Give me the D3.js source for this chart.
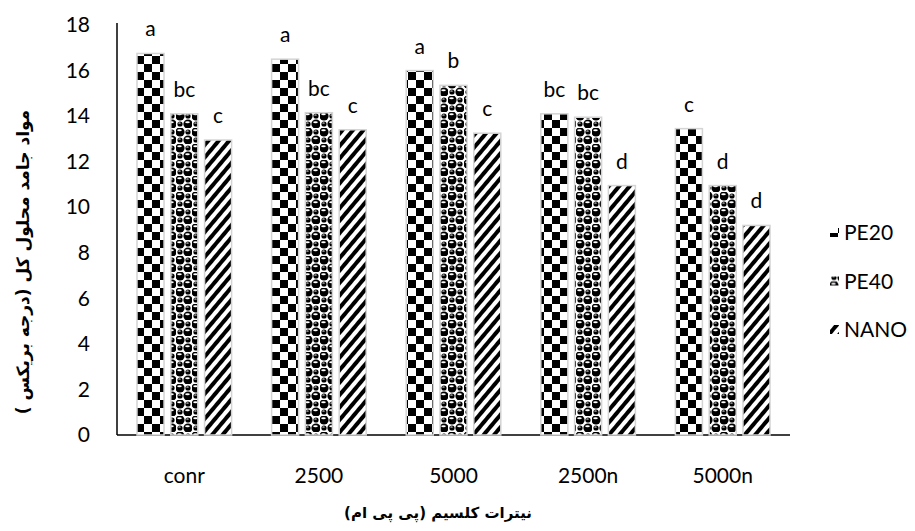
<!DOCTYPE html>
<html>
<head>
<meta charset="utf-8">
<script src="https://cdn.jsdelivr.net/npm/d3@7"></script>
<style>
  body { margin: 0; background: #fff; }
  text { font-family: Lato, "Open Sans", sans-serif; fill: #000; }
  .fa { font-family: "DejaVu Sans", "Noto Sans", sans-serif; font-weight: bold; }
</style>
</head>
<body>
<div id="chart"></div>
<script>
const categories = ['conr', '2500', '5000', '2500n', '5000n'];
const seriesNames = ['PE20', 'PE40', 'NANO'];
const pe20 = [16.75, 16.5, 16.0, 14.1, 13.45];
const pe40 = [14.1, 14.15, 15.35, 13.95, 10.95];
const nano = [12.95, 13.4, 13.25, 10.95, 9.2];
const letters20 = ['a', 'a', 'a', 'bc', 'c'];
const letters40 = ['bc', 'bc', 'b', 'bc', 'd'];
const lettersNano = ['c', 'c', 'c', 'd', 'd'];
const yTicks = [0, 2, 4, 6, 8, 10, 12, 14, 16, 18];

const width = 915, height = 531;
const margin = {left: 117, right: 125, top: 25, bottom: 96};
const tickFont = 21;

let data = [];
categories.forEach((c, i) => {
  data.push({cat: c, series: 'PE20', value: pe20[i], letter: letters20[i]});
  data.push({cat: c, series: 'PE40', value: pe40[i], letter: letters40[i]});
  data.push({cat: c, series: 'NANO', value: nano[i], letter: lettersNano[i]});
});

let svg = d3.select('#chart').append('svg')
            .attr('width', width)
            .attr('height', height);

// fill patterns
let defs = svg.append('defs');

let checker = defs.append('pattern')
                  .attr('id', 'pat-PE20')
                  .attr('patternUnits', 'userSpaceOnUse')
                  .attr('width', 16).attr('height', 16);
checker.append('rect').attr('width', 16).attr('height', 16).attr('fill', '#fff');
checker.append('rect').attr('width', 8).attr('height', 8).attr('fill', '#000');
checker.append('rect').attr('x', 8).attr('y', 8).attr('width', 8).attr('height', 8).attr('fill', '#000');

// balls pattern, big and small spheres alternating like a checkerboard
let balls = defs.append('pattern')
                .attr('id', 'pat-PE40')
                .attr('patternUnits', 'userSpaceOnUse')
                .attr('width', 16).attr('height', 16);
balls.append('rect').attr('width', 16).attr('height', 16).attr('fill', '#fff');
[[4, 4, 4.6], [12, 12, 4.6], [12, 4, 2.6], [4, 12, 2.6]].forEach(b => {
  balls.append('circle').attr('cx', b[0]).attr('cy', b[1]).attr('r', b[2]).attr('fill', '#000');
  balls.append('ellipse').attr('cx', b[0] - 0.5).attr('cy', b[1] - b[2] * 0.4)
       .attr('rx', b[2] * 0.5).attr('ry', b[2] * 0.22).attr('fill', '#fff');
});

let stripes = defs.append('pattern')
                  .attr('id', 'pat-NANO')
                  .attr('patternUnits', 'userSpaceOnUse')
                  .attr('width', 8).attr('height', 8)
                  .attr('patternTransform', 'rotate(40)');
stripes.append('rect').attr('width', 8).attr('height', 8).attr('fill', '#fff');
stripes.append('rect').attr('width', 4).attr('height', 8).attr('fill', '#000');

let x0 = d3.scaleBand()
           .domain(categories)
           .range([margin.left, width - margin.right])
           .padding(0);

let x1 = d3.scaleBand()
           .domain(seriesNames)
           .range([20, x0.bandwidth() - 20])
           .paddingInner(0.2)
           .paddingOuter(0);

let y = d3.scaleLinear()
          .domain([0, 18])
          .range([height - margin.bottom, margin.top]);

// axes
svg.append('g')
   .attr('transform', 'translate(0,' + (height - margin.bottom) + ')')
   .call(d3.axisBottom(x0).tickSize(0).tickPadding(33))
   .call(g => g.select('.domain').attr('stroke', '#000').attr('stroke-width', 1.5)
                .attr('d', 'M' + margin.left + ',0H' + (width - margin.right)))
   .selectAll('text')
   .attr('font-size', tickFont)
   .attr('font-family', 'Lato, "Open Sans", sans-serif');

svg.append('g')
   .attr('transform', 'translate(' + margin.left + ',0)')
   .call(d3.axisLeft(y).tickValues(yTicks).tickSize(0).tickPadding(27))
   .call(g => g.select('.domain').attr('stroke', '#000').attr('stroke-width', 1.5)
                .attr('d', 'M0,' + (margin.top - 2) + 'V' + (height - margin.bottom)))
   .selectAll('text')
   .attr('font-size', tickFont)
   .attr('font-family', 'Lato, "Open Sans", sans-serif');

// bars
let groups = svg.selectAll('g.bar')
                .data(data)
                .enter().append('g')
                .attr('class', 'bar');

groups.append('rect')
      .attr('x', d => x0(d.cat) + x1(d.series))
      .attr('y', d => y(d.value))
      .attr('width', x1.bandwidth())
      .attr('height', d => y(0) - y(d.value))
      .attr('fill', d => 'url(#pat-' + d.series + ')')
      .attr('stroke', '#d4d4d4')
      .attr('stroke-width', 1.5);

groups.append('text')
      .attr('x', d => x0(d.cat) + x1(d.series) + x1.bandwidth() / 2)
      .attr('y', d => y(d.value) - 17)
      .attr('text-anchor', 'middle')
      .attr('font-size', tickFont)
      .text(d => d.letter);

// legend
let legend = svg.selectAll('g.legend')
                .data(seriesNames)
                .enter().append('g')
                .attr('class', 'legend')
                .attr('transform', (d, i) => 'translate(830,' + (233 + i * 48.5) + ')');

legend.append('rect')
      .attr('x', 0).attr('y', -5)
      .attr('width', 9).attr('height', 9)
      .attr('fill', d => 'url(#pat-' + d + ')');

legend.append('text')
      .attr('x', 14)
      .attr('y', 7)
      .attr('font-size', tickFont)
      .text(d => d);

// axis titles
svg.append('text')
   .attr('class', 'fa')
   .attr('transform', 'translate(29,' + 262 + ') rotate(-90)')
   .attr('text-anchor', 'middle')
   .attr('font-size', 17)
   .attr('direction', 'rtl')
   .text('مواد جامد محلول کل (درجه بریکس )');

svg.append('text')
   .attr('class', 'fa')
   .attr('x', 438)
   .attr('y', 518)
   .attr('text-anchor', 'middle')
   .attr('font-size', 15)
   .attr('direction', 'rtl')
   .text('نیترات کلسیم (پی پی ام)');
</script>
</body>
</html>
